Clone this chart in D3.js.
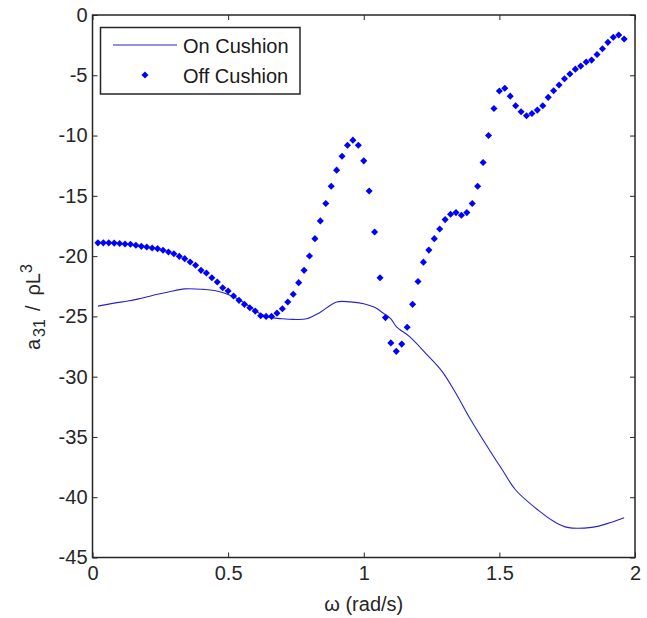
<!DOCTYPE html>
<html><head><meta charset="utf-8">
<script src="https://cdn.jsdelivr.net/npm/d3@7"></script>
<style>body{margin:0;background:#fff}text{font-family:"Liberation Sans",Arial,sans-serif}</style>
</head><body><svg id="c" width="647" height="618"></svg>
<script>
const offX = [0.02,0.04,0.06,0.08,0.10,0.12,0.14,0.16,0.18,0.20,0.22,0.24,0.26,0.28,0.30,0.32,0.34,0.36,0.38,0.40,0.42,0.44,0.46,0.48,0.50,0.52,0.54,0.56,0.58,0.60,0.62,0.64,0.66,0.68,0.70,0.72,0.74,0.76,0.78,0.80,0.82,0.84,0.86,0.88,0.90,0.92,0.94,0.96,0.98,1.00,1.02,1.04,1.06,1.08,1.10,1.12,1.14,1.16,1.18,1.20,1.22,1.24,1.26,1.28,1.30,1.32,1.34,1.36,1.38,1.40,1.42,1.44,1.46,1.48,1.50,1.52,1.54,1.56,1.58,1.60,1.62,1.64,1.66,1.68,1.70,1.72,1.74,1.76,1.78,1.80,1.82,1.84,1.86,1.88,1.90,1.92,1.94,1.96];
const offY = [-18.9,-18.9,-18.9,-18.92,-18.95,-19.0,-19.02,-19.1,-19.19,-19.24,-19.33,-19.38,-19.52,-19.66,-19.8,-20.02,-20.21,-20.49,-20.76,-21.18,-21.4,-21.79,-22.15,-22.62,-22.9,-23.31,-23.67,-24.0,-24.28,-24.56,-24.95,-25.0,-25.0,-24.73,-24.36,-23.81,-23.17,-22.2,-21.18,-19.99,-18.55,-17.08,-15.64,-14.2,-12.87,-11.71,-10.8,-10.38,-10.8,-12.1,-14.6,-18.0,-21.8,-25.1,-27.2,-27.9,-27.3,-25.9,-24.0,-22.1,-20.5,-19.5,-18.55,-17.75,-16.97,-16.53,-16.39,-16.61,-16.39,-15.64,-14.2,-12.24,-9.99,-7.75,-6.3,-6.07,-6.73,-7.53,-8.03,-8.36,-8.17,-7.89,-7.53,-6.83,-6.29,-5.81,-5.29,-4.9,-4.49,-4.24,-3.9,-3.74,-3.27,-2.8,-2.27,-1.85,-1.66,-1.99];
const onX = [0.02,0.08,0.13,0.17,0.24,0.28,0.34,0.41,0.45,0.49,0.54,0.58,0.62,0.66,0.70,0.74,0.79,0.84,0.90,0.95,1.00,1.04,1.07,1.10,1.12,1.17,1.23,1.29,1.34,1.39,1.45,1.51,1.56,1.65,1.70,1.75,1.84,1.91,1.96];
const onY = [-24.15,-23.9,-23.73,-23.55,-23.17,-22.98,-22.72,-22.76,-22.85,-23.1,-23.6,-24.2,-24.8,-25.1,-25.2,-25.25,-25.2,-24.65,-23.8,-23.8,-23.95,-24.25,-24.7,-25.2,-25.85,-26.7,-28.1,-29.6,-31.4,-33.4,-35.6,-37.7,-39.4,-41.2,-42.0,-42.5,-42.5,-42.1,-41.7];
const xTicks = [0,0.5,1,1.5,2];
const yTicks = [0,-5,-10,-15,-20,-25,-30,-35,-40,-45];
const seriesNames = ["On Cushion","Off Cushion"];

const L=92.5,R=635,T=15,B=557.5;
const svg=d3.select("#c");
const x=d3.scaleLinear().domain([0,2]).range([L,R]);
const y=d3.scaleLinear().domain([-45,0]).range([B,T]);
const axCol="#262626", blue="#0000ff", lineCol="#2424c8";
const fs=20;

function styleAxis(g){g.select(".domain").remove();g.selectAll("line").attr("stroke",axCol);g.selectAll("text").attr("fill","#262626").style("font-size",fs+"px").style("font-family","'Liberation Sans',Arial,sans-serif");}

svg.append("g").attr("transform",`translate(${L},0)`).call(d3.axisLeft(y).tickValues(yTicks).tickFormat(d=>String(d)).tickSizeInner(-5).tickSizeOuter(0).tickPadding(5)).call(styleAxis);
svg.append("g").attr("transform",`translate(${R},0)`).call(d3.axisRight(y).tickValues(yTicks).tickFormat("").tickSizeInner(-5).tickSizeOuter(0)).call(styleAxis);
svg.append("g").attr("transform",`translate(0,${B})`).call(d3.axisBottom(x).tickValues(xTicks).tickFormat(d=>String(d)).tickSizeInner(-5).tickSizeOuter(0).tickPadding(8)).call(styleAxis);
svg.append("g").attr("transform",`translate(0,${T})`).call(d3.axisTop(x).tickValues(xTicks).tickFormat("").tickSizeInner(-5).tickSizeOuter(0)).call(styleAxis);
svg.append("rect").attr("x",L).attr("y",T).attr("width",R-L).attr("height",B-T).attr("fill","none").attr("stroke",axCol).attr("stroke-width",1.5);

const onData=onX.map((v,i)=>[v,onY[i]]);
svg.append("path").datum(onData).attr("fill","none").attr("stroke",lineCol).attr("stroke-width",1.1)
  .attr("d",d3.line().x(d=>x(d[0])).y(d=>y(d[1])).curve(d3.curveCatmullRom.alpha(0.5)));

const sym=d3.symbol(d3.symbolDiamond2,32);
svg.append("g").selectAll("path").data(offX.map((v,i)=>[v,offY[i]])).join("path")
  .attr("transform",d=>`translate(${x(d[0])},${y(d[1])})`).attr("d",sym).attr("fill",blue);

// legend
const lg=svg.append("g");
lg.append("rect").attr("x",100.5).attr("y",27.5).attr("width",199.5).attr("height",66.5).attr("fill","#fff").attr("stroke",axCol).attr("stroke-width",1.5);
lg.append("line").attr("x1",113).attr("x2",177).attr("y1",45).attr("y2",45).attr("stroke",lineCol).attr("stroke-width",1.1);
lg.append("path").attr("transform","translate(145,75)").attr("d",sym).attr("fill",blue);
lg.append("text").attr("x",183).attr("y",52.5).text(seriesNames[0]).style("font-size",fs+"px").attr("fill","#1a1a1a");
lg.append("text").attr("x",183).attr("y",83).text(seriesNames[1]).style("font-size",fs+"px").attr("fill","#1a1a1a");

// axis labels
svg.append("text").attr("x",(L+R)/2).attr("y",611).attr("text-anchor","middle").style("font-size",fs+"px").attr("fill","#262626").text("ω (rad/s)");
const yl=svg.append("text").attr("transform",`translate(40,350) rotate(-90)`).attr("text-anchor","start").style("font-size",fs+"px").attr("fill","#262626");
yl.append("tspan").text("a");
yl.append("tspan").attr("dy",5).attr("dx",2).style("font-size","16px").text("31");
yl.append("tspan").attr("dy",-5).attr("dx",8).text("/");
yl.append("tspan").attr("dx",10).text("ρL");
yl.append("tspan").attr("dy",-8).style("font-size","16px").text("3");
</script></body></html>
